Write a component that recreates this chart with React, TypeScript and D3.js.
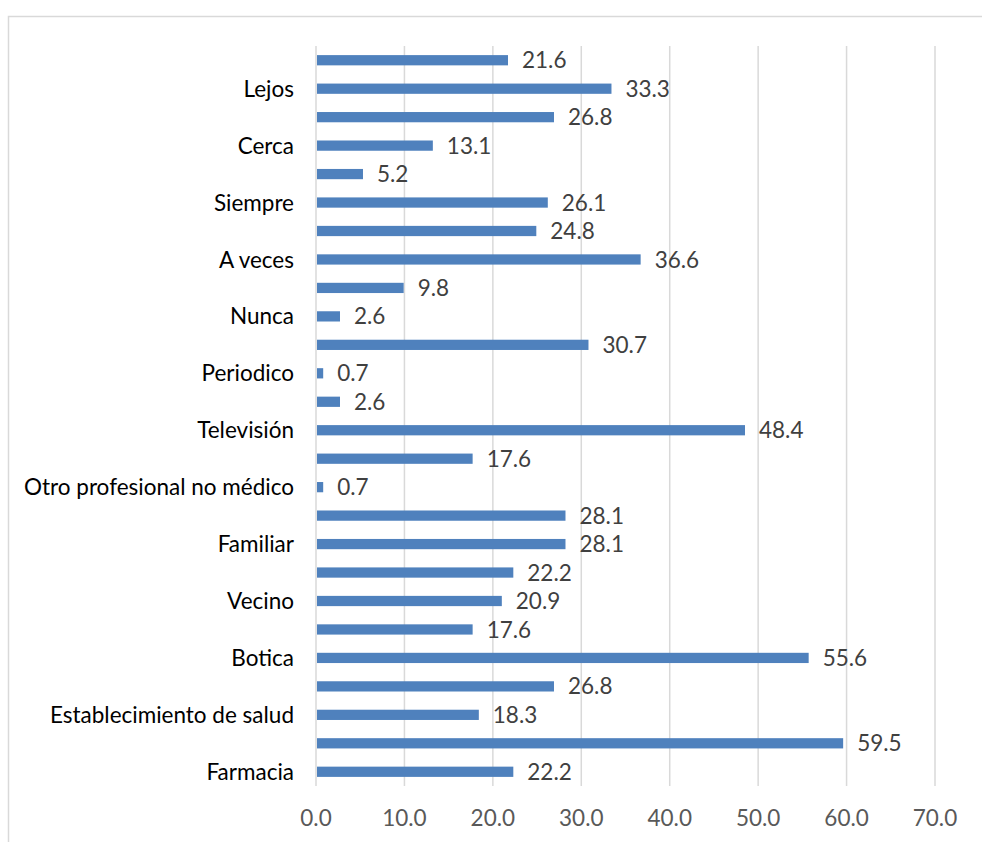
import { useEffect, useRef } from 'react'
import * as d3 from 'd3'

// bottom to top, empty label = row Excel skipped
const categories = [
  'Farmacia', '', 'Establecimiento de salud', '', 'Botica', '', 'Vecino', '',
  'Familiar', '', 'Otro profesional no médico', '', 'Televisión', '', 'Periodico', '',
  'Nunca', '', 'A veces', '', 'Siempre', '', 'Cerca', '', 'Lejos', ''
]
const values = [
  22.2, 59.5, 18.3, 26.8, 55.6, 17.6, 20.9, 22.2,
  28.1, 28.1, 0.7, 17.6, 48.4, 2.6, 0.7, 30.7,
  2.6, 9.8, 36.6, 24.8, 26.1, 5.2, 13.1, 26.8, 33.3, 21.6
]
const xTicks = [0, 10, 20, 30, 40, 50, 60, 70]

const W = 982
const H = 842
const font = 'Lato, "Open Sans", sans-serif'
const fs = 22.5

export default function App() {
  const svgRef = useRef<SVGSVGElement>(null)

  useEffect(() => {
    if (!svgRef.current) return
    const svg = d3.select(svgRef.current)
    svg.selectAll('*').remove()

    const plot = { left: 316, right: 935, top: 46, bottom: 786 }

    const x = d3.scaleLinear().domain([0, 70]).range([plot.left, plot.right])
    const idx = categories.map((_, i) => i)
    const y = d3.scaleBand<number>()
      .domain(idx)
      .range([plot.bottom, plot.top])
      .paddingInner(0.64)
      .paddingOuter(0.32)

    // chart border
    svg.append('rect')
      .attr('x', 8.5).attr('y', 16.5)
      .attr('width', 1000).attr('height', 1000)
      .attr('fill', 'none')
      .attr('stroke', '#d9d9d9')
      .attr('stroke-width', 1.5)

    // gridlines
    svg.append('g')
      .selectAll('line')
      .data(xTicks)
      .enter()
      .append('line')
      .attr('x1', d => x(d)).attr('x2', d => x(d))
      .attr('y1', plot.top).attr('y2', plot.bottom)
      .attr('stroke', '#d9d9d9')
      .attr('stroke-width', 1.5)

    // bars
    svg.append('g')
      .selectAll('rect')
      .data(values)
      .enter()
      .append('rect')
      .attr('x', x(0) + 1)
      .attr('y', (_, i) => y(i) || 0)
      .attr('width', d => x(d) - x(0))
      .attr('height', y.bandwidth())
      .attr('fill', '#4f81bd')

    // value labels
    svg.append('g')
      .selectAll('text')
      .data(values)
      .enter()
      .append('text')
      .attr('x', d => x(d) + 15)
      .attr('y', (_, i) => (y(i) || 0) + y.bandwidth() / 2)
      .attr('dy', '0.36em')
      .attr('font-family', font)
      .attr('font-size', fs)
      .attr('fill', '#404040')
      .text(d => d.toFixed(1))

    // category labels
    svg.append('g')
      .selectAll('text')
      .data(idx.filter(i => categories[i] !== ''))
      .enter()
      .append('text')
      .attr('x', plot.left - 22)
      .attr('y', i => (y(i) || 0) + y.bandwidth() / 2)
      .attr('dy', '0.36em')
      .attr('text-anchor', 'end')
      .attr('font-family', font)
      .attr('font-size', fs)
      .attr('fill', '#000')
      .text(i => categories[i])

    // x tick labels
    svg.append('g')
      .selectAll('text')
      .data(xTicks)
      .enter()
      .append('text')
      .attr('x', d => x(d))
      .attr('y', 818)
      .attr('dy', '0.36em')
      .attr('text-anchor', 'middle')
      .attr('font-family', font)
      .attr('font-size', fs)
      .attr('fill', '#595959')
      .text(d => d.toFixed(1))
  }, [])

  return (
    <svg
      ref={svgRef}
      width={W}
      height={H}
      style={{ position: 'absolute', left: 0, top: 0, background: '#fff' }}
    />
  )
}
